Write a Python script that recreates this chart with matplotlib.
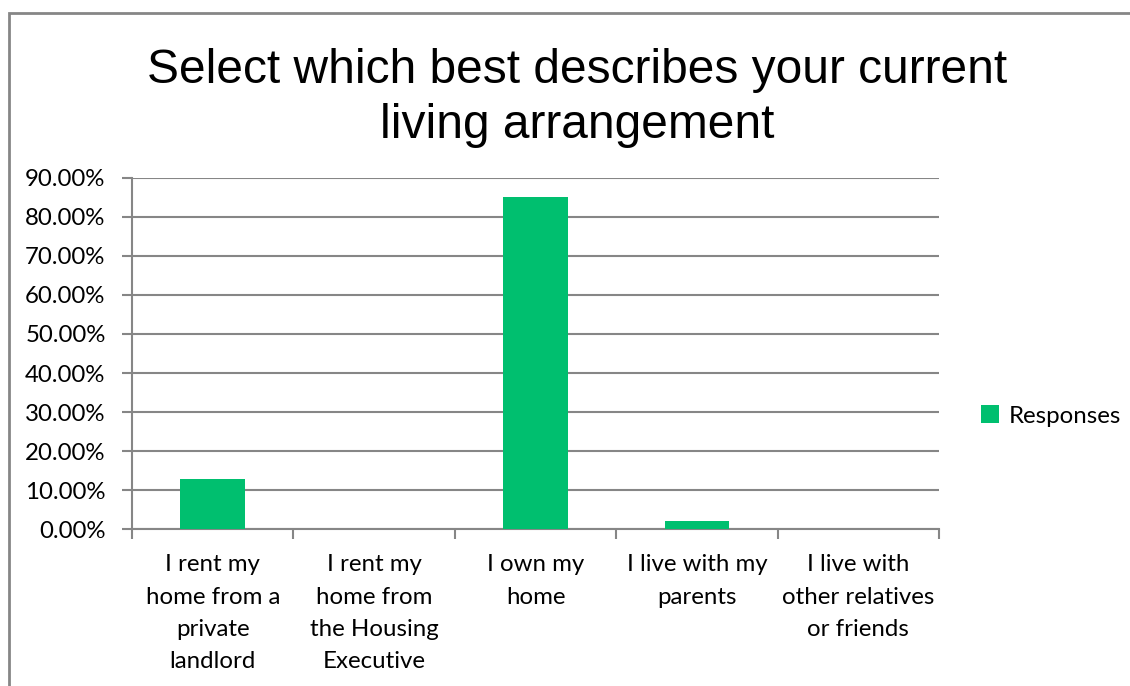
import matplotlib.pyplot as plt
from matplotlib.patches import Rectangle
from matplotlib.ticker import FuncFormatter
import numpy as np

categories = ["I rent my\nhome from a\nprivate\nlandlord",
              "I rent my\nhome from\nthe Housing\nExecutive",
              "I own my\nhome",
              "I live with my\nparents",
              "I live with\nother relatives\nor friends"]
responses = [12.77, 0.0, 85.11, 2.13, 0.0]
yticks = [0, 10, 20, 30, 40, 50, 60, 70, 80, 90]

green = '#00BF6F'
grey = '#868686'
lab_font = 'Lato'

fig = plt.figure(figsize=(11.3, 6.86), dpi=100)
ax = fig.add_axes([0.1168, 0.2284, 0.7142, 0.5126])

x = np.arange(len(categories))
ax.bar(x, responses, width=0.4, color=green, label='Responses', zorder=3)

ax.set_xlim(-0.5, len(categories) - 0.5)
ax.set_ylim(0, 90)
ax.set_yticks(yticks)
ax.yaxis.set_major_formatter(FuncFormatter(lambda v, p: '%.2f%%' % v))
ax.grid(axis='y', color=grey, linewidth=1.5, zorder=0)

# category labels at the centres, tick marks on the boundaries
ax.set_xticks(x)
ax.set_xticklabels(categories, fontsize=17.3, fontfamily=lab_font, linespacing=1.66)
ax.tick_params(axis='x', which='major', length=0, pad=18)
ax.set_xticks(np.arange(-0.5, len(categories)), minor=True)
ax.tick_params(axis='x', which='minor', length=7, width=1.5, color=grey, direction='out')
ax.tick_params(axis='y', length=7, width=1.5, color=grey, pad=12,
               labelsize=17.3, direction='out')
for t in ax.get_yticklabels():
    t.set_fontfamily(lab_font)

for s in ['top', 'right']:
    ax.spines[s].set_visible(False)
for s in ['left', 'bottom']:
    ax.spines[s].set_color(grey)
    ax.spines[s].set_linewidth(1.5)

fig.text(0.511, 0.857, "Select which best describes your current\nliving arrangement",
         ha='center', va='center', fontsize=34.5, fontfamily='Liberation Sans',
         linespacing=1.28)

leg = ax.legend(loc='center left', bbox_to_anchor=(1.025, 0.322), frameon=False,
                prop={'family': lab_font, 'size': 17.3}, handlelength=0.75,
                handleheight=0.75, handletextpad=0.4)

# chart area border (runs off the right and bottom edges)
fig.patches.append(Rectangle((9 / 1130, -0.1), 1.2, 0.1 + 1 - 13 / 686,
                             transform=fig.transFigure, fill=False,
                             edgecolor=grey, linewidth=2))

fig.savefig('out.png', dpi=100)
